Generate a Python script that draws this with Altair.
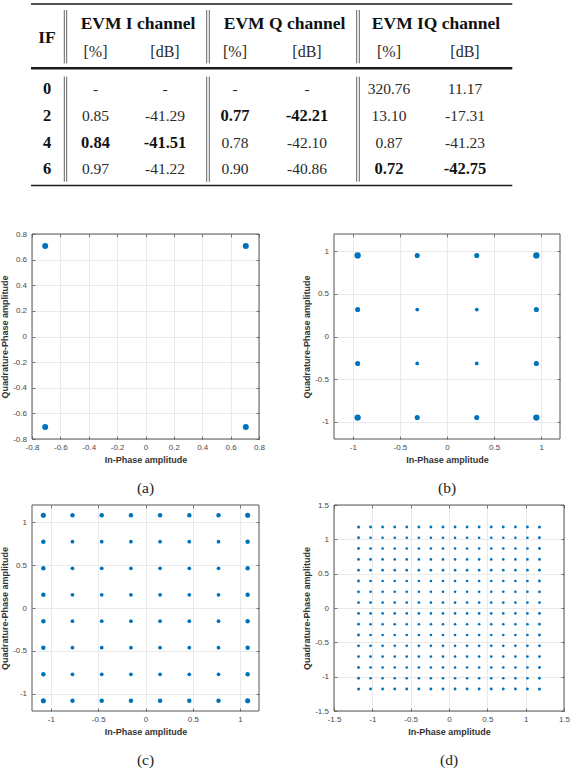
import altair as alt
import pandas as pd

# ---------------- table values ----------------
IF_VALUES = ["0", "2", "4", "6"]
EVM_I_PCT = ["-", "0.85", "0.84", "0.97"]
EVM_I_DB = ["-", "-41.29", "-41.51", "-41.22"]
EVM_Q_PCT = ["-", "0.77", "0.78", "0.90"]
EVM_Q_DB = ["-", "-42.21", "-42.10", "-40.86"]
EVM_IQ_PCT = ["320.76", "13.10", "0.87", "0.72"]
EVM_IQ_DB = ["11.17", "-17.31", "-41.23", "-42.75"]
BEST_IF = {"I": "4", "Q": "2", "IQ": "6"}          # rows printed in bold
GROUP_HEADERS = ["EVM I channel", "EVM Q channel", "EVM IQ channel"]
UNIT_HEADERS = ["[%]", "[dB]"]

# ---------------- constellation levels ----------------
LEVELS_A = [-0.707, 0.707]
LEVELS_B = [-0.949, -0.316, 0.316, 0.949]
LEVELS_C = [-1.08, -0.772, -0.463, -0.154, 0.154, 0.463, 0.772, 1.08]
LEVELS_D = [-1.18, -1.023, -0.866, -0.708, -0.551, -0.393, -0.236, -0.079,
            0.079, 0.236, 0.393, 0.551, 0.708, 0.866, 1.023, 1.18]
TICKS_A = [-0.8, -0.6, -0.4, -0.2, 0, 0.2, 0.4, 0.6, 0.8]
TICKS_BC = [-1, -0.5, 0, 0.5, 1]
TICKS_D = [-1.5, -1, -0.5, 0, 0.5, 1, 1.5]
CAPTIONS = ["(a)", "(b)", "(c)", "(d)"]

# ---------------- styles / layout ----------------
SERIF = "Liberation Serif"
SANS = "Liberation Sans"
BLUE = "#0072BD"
FRAME = "#555555"
GRID = "#e4e4e4"
LABEL = "#474747"
TITLE = "#333333"
# the table group starts where panel (a)'s plot area starts (page x = 32)
TABLE_X0, TABLE_X1, TABLE_H = 32, 572, 226
COL_X = {"IF": 47, "I_pct": 95.5, "I_db": 165, "Q_pct": 235, "Q_db": 307,
         "IQ_pct": 389, "IQ_db": 465}
GROUP_X = [138, 284.5, 436]
Y_GROUP, Y_IF, Y_UNIT = 29.3, 42.7, 56.5
Y_ROWS = [94.3, 120.7, 147.5, 174.3]
HRULES = [(31, 512.3, 4.0, 1.3), (31, 512.3, 68.3, 2.4), (31, 512.3, 185.5, 1.3)]
VLINE_X = [64.3, 66.7, 206.7, 209.3, 356.7, 359.3]
VLINE_SEGS = [(10, 63.3), (76.7, 181.7)]

# ---------------- table chart ----------------
regular, bold = [], []
cols = [("I", EVM_I_PCT, EVM_I_DB), ("Q", EVM_Q_PCT, EVM_Q_DB), ("IQ", EVM_IQ_PCT, EVM_IQ_DB)]
for r, ifv in enumerate(IF_VALUES):
    bold.append({"x": COL_X["IF"], "y": Y_ROWS[r], "t": ifv, "fs": 16.5})
    for key, pct, db in cols:
        tgt, fs = (bold, 16.5) if BEST_IF[key] == ifv else (regular, 15.5)
        tgt.append({"x": COL_X[key + "_pct"], "y": Y_ROWS[r], "t": pct[r], "fs": fs})
        tgt.append({"x": COL_X[key + "_db"], "y": Y_ROWS[r], "t": db[r], "fs": fs})
bold.append({"x": COL_X["IF"], "y": Y_IF, "t": "IF", "fs": 17.5})
for gx, g in zip(GROUP_X, GROUP_HEADERS):
    bold.append({"x": gx, "y": Y_GROUP, "t": g, "fs": 17.5})
for key, _, _ in cols:
    regular.append({"x": COL_X[key + "_pct"], "y": Y_UNIT, "t": UNIT_HEADERS[0], "fs": 16})
    regular.append({"x": COL_X[key + "_db"], "y": Y_UNIT, "t": UNIT_HEADERS[1], "fs": 16})

hr = pd.DataFrame([{"x": a, "x2": b, "y": y, "w": w} for a, b, y, w in HRULES])
vr = pd.DataFrame([{"x": x, "y": s0, "y2": s1} for x in VLINE_X for s0, s1 in VLINE_SEGS])

tx = alt.Scale(domain=[TABLE_X0, TABLE_X1], nice=False, zero=False)
ty = alt.Scale(domain=[0, TABLE_H], nice=False, zero=False, reverse=True)


def table_text(rows, weight, color):
    return alt.Chart(pd.DataFrame(rows)).mark_text(
        font=SERIF, fontWeight=weight, color=color, align="center", baseline="alphabetic"
    ).encode(
        x=alt.X("x:Q", scale=tx, axis=None),
        y=alt.Y("y:Q", scale=ty, axis=None),
        text="t:N",
        size=alt.Size("fs:Q", scale=None, legend=None),
    )


hrule_layer = alt.Chart(hr).mark_rule(color="#1a1a1a").encode(
    x=alt.X("x:Q", scale=tx, axis=None), x2="x2:Q",
    y=alt.Y("y:Q", scale=ty, axis=None),
    strokeWidth=alt.StrokeWidth("w:Q", scale=None, legend=None),
)
vrule_layer = alt.Chart(vr).mark_rule(color="#3a3a3a", strokeWidth=0.8).encode(
    x=alt.X("x:Q", scale=tx, axis=None),
    y=alt.Y("y:Q", scale=ty, axis=None), y2="y2:Q",
)
table = alt.layer(
    hrule_layer, vrule_layer,
    table_text(regular, "normal", "#2a2a2a"),
    table_text(bold, "bold", "#111111"),
).properties(width=TABLE_X1 - TABLE_X0, height=TABLE_H)

# ---------------- constellation panels ----------------
LBL = "replace(format(datum.value, '~g'), '\u2212', '-')"
frame_df = pd.DataFrame({"f": [0]})


def panel(levels, dom, ticks, w, h, caption, ring_sizes):
    top = max(levels)
    rows = []
    for q in levels:
        for i in levels:
            ring = int(abs(i) == top) + int(abs(q) == top)
            rows.append({"I": i, "Q": q, "s": ring_sizes[ring]})
    df = pd.DataFrame(rows)
    xs = alt.Scale(domain=dom, nice=False, zero=False)
    ys = alt.Scale(domain=dom, nice=False, zero=False)
    common = dict(values=ticks, tickSize=3, tickColor=FRAME, tickWidth=0.8,
                  domain=False, offset=-3)
    xa = alt.Axis(orient="bottom", grid=True, gridColor=GRID, gridWidth=0.8,
                  title="In-Phase amplitude", titleFont=SANS, titleFontSize=9,
                  titleFontWeight="bold", titleColor=TITLE, titlePadding=3.8,
                  labelFont=SANS, labelFontSize=8, labelColor=LABEL, labelPadding=4.5,
                  labelFlush=False, labelOverlap=False, labelExpr=LBL, **common)
    ya = alt.Axis(orient="left", grid=True, gridColor=GRID, gridWidth=0.8,
                  title="Quadrature-Phase amplitude", titleFont=SANS, titleFontSize=9,
                  titleFontWeight="bold", titleColor=TITLE, titlePadding=3.7,
                  labelFont=SANS, labelFontSize=8, labelColor=LABEL, labelPadding=5.5,
                  labelFlush=False, labelOverlap=False, labelExpr=LBL, **common)
    xt = alt.Axis(orient="top", grid=False, labels=False, title="", **common)
    yr = alt.Axis(orient="right", grid=False, labels=False, title="", **common)
    pts = alt.Chart(df).mark_circle(color=BLUE, opacity=1).encode(
        x=alt.X("I:Q", scale=xs, axis=xa),
        y=alt.Y("Q:Q", scale=ys, axis=ya),
        size=alt.Size("s:Q", scale=None, legend=None),
    )
    mirror = alt.Chart(df).mark_circle(opacity=0).encode(
        x=alt.X("I:Q", scale=xs, axis=xt),
        y=alt.Y("Q:Q", scale=ys, axis=yr),
    )
    frame = alt.Chart(frame_df).mark_rect(fillOpacity=0, stroke=FRAME, strokeWidth=1).encode(
        x=alt.value(0), x2=alt.value("width"), y=alt.value(0), y2=alt.value("height")
    )
    return alt.layer(pts, mirror, frame).resolve_axis(
        x="independent", y="independent"
    ).properties(
        width=w, height=h,
        title=alt.TitleParams(caption, orient="bottom", anchor="middle", frame="group",
                              font=SERIF, fontSize=15.5, fontWeight="normal",
                              color="#222222", offset=17, baseline="top"),
    )


pa = panel(LEVELS_A, [-0.8, 0.8], TICKS_A, 227, 205, CAPTIONS[0], [36, 36, 36])
pb = panel(LEVELS_B, [-1.2, 1.2], TICKS_BC, 226, 205, CAPTIONS[1], [14, 26, 40])
pc = panel(LEVELS_C, [-1.2, 1.2], TICKS_BC, 227, 206, CAPTIONS[2], [14, 20, 26])
pd_ = panel(LEVELS_D, [-1.5, 1.5], TICKS_D, 230, 206, CAPTIONS[3], [7, 8, 9])

row2 = alt.hconcat(pa, pb, spacing=75, bounds="flush")
row3 = alt.hconcat(pc, pd_, spacing=75, bounds="flush")

chart = alt.vconcat(table, row2, row3, spacing=4).properties(
    padding={"left": 0, "top": 0, "right": 0, "bottom": 0},
    background="white",
).configure_view(strokeWidth=0)

chart.save("out.html", embed_options={"renderer": "svg", "actions": False})
